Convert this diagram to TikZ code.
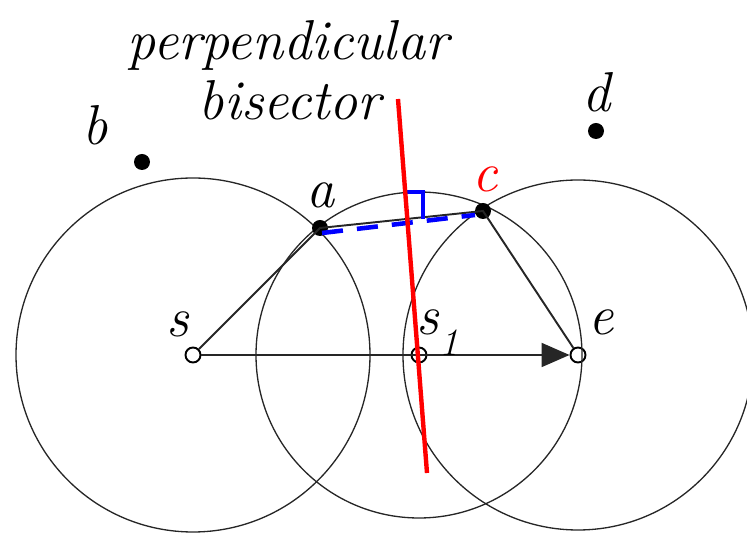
\documentclass[tikz,border=0pt]{standalone}
\usetikzlibrary{arrows.meta,positioning}

\tikzset{
  lbl/.style={font=\fontsize{32}{38}\selectfont\itshape, inner sep=0pt, anchor=base},
  hollow/.style={circle, draw, fill=white, line width=1.1pt, minimum size=0.3cm, inner sep=0pt},
  filled/.style={circle, fill=black, minimum size=0.32cm, inner sep=0pt},
  ring/.style={line width=0.75pt, black!85},
  leg/.style={line width=1.1pt, black!85},
}

\begin{document}
\begin{tikzpicture}
\useasboundingbox (0,0) rectangle (14.94,10.68);

% centres of the three circles
\node[hollow] (s)  at (3.86,3.58) {};
\node[hollow] (s1) at (8.38,3.58) {};
\node[hollow] (e)  at (11.56,3.58) {};
\draw[ring] (s.center)  circle (3.54);
\draw[ring] (s1.center) circle (3.26);
\draw[ring] (e.center)  circle (3.50);

% neighbour points
\node[filled] (a) at (6.40,6.12) {};
\node[filled] (c) at (9.66,6.46) {};
\node[filled] (b) at (2.84,7.44) {};
\node[filled] (d) at (11.92,8.06) {};

% path s -> a -> c -> e and direct step s -> e
\draw[leg] (s) -- (a.center) -- (c.center) -- (e);
\draw[leg, -{Triangle[length=0.56cm,width=0.48cm]}] (s) -- (e);

% blue dashed chord and right-angle mark
\coordinate (ad) at (6.44,6.02);
\coordinate (cd) at (9.50,6.38);
\draw[blue, line width=2.6pt, dash pattern=on 12pt off 8pt] (ad) -- (cd);
\draw[blue, line width=1.9pt] (8.10,6.84) -- (8.46,6.84) -- (8.46,6.30);

% perpendicular bisector
\coordinate (pb top) at (7.96,8.70);
\coordinate (pb bot) at (8.54,1.22);
\draw[red, line width=2.5pt] (pb top) -- (pb bot);

% labels
\node[lbl] (t1) at (5.76,9.48) {perpendicular};
\node[lbl] (t2) at (5.80,8.28) {bisector};
\node[lbl] (la) at (6.42,6.52) {a};
\node[lbl] (lb) at (1.90,7.78) {b};
\node[lbl, red] (lc) at (9.70,6.84) {c};
\node[lbl] (ld) at (11.94,8.44) {d};
\node[lbl] (ls) at (3.56,3.94) {s};
\node[lbl, anchor=base west] (ls1) at (8.32,3.98) {s\raisebox{-0.36em}{\kern0.02em\fontsize{22}{24}\selectfont 1}};
\node[lbl] (le) at (12.02,3.98) {e};
\end{tikzpicture}
\end{document}
